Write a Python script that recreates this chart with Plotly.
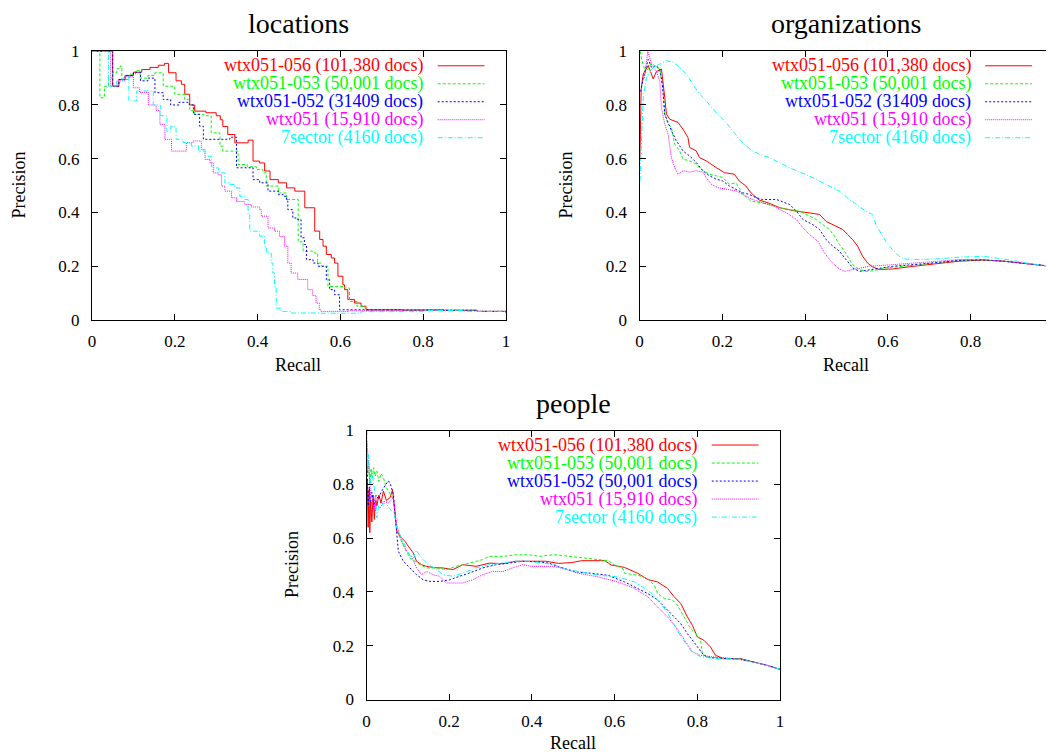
import plotly.graph_objects as go

# ---------------- data ----------------
COLORS = ["#ff0000", "#00ff00", "#0000ff", "#ff00ff", "#00ffff"]
DASHES = ["solid", "3px,2px", "2px,2px", "1px,1px", "5px,2px,1px,2px"]

LOC_LABELS = ["wtx051-056 (101,380 docs)", "wtx051-053 (50,001 docs)", "wtx051-052 (31409 docs)",
              "wtx051 (15,910 docs)", "7sector (4160 docs)"]
ORG_LABELS = ["wtx051-056 (101,380 docs)", "wtx051-053 (50,001 docs)", "wtx051-052 (31409 docs)",
              "wtx051 (15,910 docs)", "7sector (4160 docs)"]
PEO_LABELS = ["wtx051-056 (101,380 docs)", "wtx051-053 (50,001 docs)", "wtx051-052 (50,001 docs)",
              "wtx051 (15,910 docs)", "7sector (4160 docs)"]

TICK_VALS = [0, 0.2, 0.4, 0.6, 0.8, 1]
TICK_TEXT = ["0", "0.2", "0.4", "0.6", "0.8", "1"]
ORG_X_TICK_VALS = [0, 0.2, 0.4, 0.6, 0.8]
ORG_X_TICK_TEXT = ["0", "0.2", "0.4", "0.6", "0.8"]

# locations (step curves)
loc_red_x = [0, 0.05, 0.065, 0.08, 0.10, 0.12, 0.14, 0.16, 0.175, 0.185, 0.203, 0.216, 0.224, 0.236, 0.248,
             0.275, 0.30, 0.31, 0.316, 0.328, 0.345, 0.377, 0.389, 0.405, 0.417, 0.43, 0.45, 0.47, 0.49, 0.514,
             0.538, 0.55, 0.558, 0.566, 0.578, 0.586, 0.594, 0.606, 0.61, 0.618, 0.634, 0.65, 0.662, 0.75,
             0.85, 0.93, 1.0]
loc_red_y = [1.0, 0.87, 0.895, 0.91, 0.922, 0.932, 0.94, 0.948, 0.955, 0.92, 0.89, 0.877, 0.84, 0.80, 0.777,
             0.771, 0.76, 0.745, 0.72, 0.69, 0.659, 0.669, 0.591, 0.584, 0.554, 0.522, 0.51, 0.491, 0.479, 0.417,
             0.33, 0.299, 0.274, 0.243, 0.23, 0.211, 0.162, 0.13, 0.112, 0.075, 0.062, 0.05, 0.037, 0.036,
             0.035, 0.031, 0.027]

loc_green_x = [0, 0.019, 0.03, 0.04, 0.05, 0.06, 0.068, 0.072, 0.09, 0.105, 0.116, 0.135, 0.152, 0.172, 0.20,
               0.224, 0.236, 0.248, 0.27, 0.288, 0.309, 0.316, 0.353, 0.375, 0.397, 0.413, 0.421, 0.45, 0.47,
               0.498, 0.51, 0.538, 0.545, 0.554, 0.57, 0.61, 0.622, 0.64, 0.66, 0.75, 0.85, 0.93, 1.0]
loc_green_y = [1.0, 0.827, 0.87, 0.90, 0.92, 0.935, 0.945, 0.895, 0.915, 0.928, 0.90, 0.91, 0.92, 0.87, 0.84,
               0.82, 0.78, 0.765, 0.76, 0.696, 0.647, 0.628, 0.578, 0.57, 0.56, 0.547, 0.498, 0.472, 0.448,
               0.29, 0.255, 0.248, 0.211, 0.199, 0.124, 0.118, 0.068, 0.05, 0.035, 0.036, 0.035, 0.031, 0.027]

loc_blue_x = [0, 0.05, 0.065, 0.08, 0.10, 0.117, 0.135, 0.152, 0.172, 0.19, 0.21, 0.235, 0.245, 0.26, 0.269,
              0.333, 0.349, 0.389, 0.405, 0.425, 0.45, 0.462, 0.47, 0.473, 0.485, 0.497, 0.505, 0.513, 0.518,
              0.534, 0.546, 0.566, 0.574, 0.586, 0.598, 0.75, 0.85, 0.93, 1.0]
loc_blue_y = [1.0, 0.87, 0.895, 0.91, 0.922, 0.89, 0.90, 0.846, 0.82, 0.80, 0.81, 0.80, 0.765, 0.721, 0.672,
              0.68, 0.566, 0.522, 0.51, 0.479, 0.466, 0.46, 0.442, 0.41, 0.379, 0.373, 0.305, 0.28, 0.224,
              0.211, 0.199, 0.149, 0.112, 0.093, 0.037, 0.036, 0.035, 0.031, 0.027]

loc_mag_x = [0, 0.045, 0.06, 0.08, 0.10, 0.115, 0.136, 0.155, 0.164, 0.176, 0.192, 0.228, 0.244, 0.264, 0.273,
             0.285, 0.293, 0.305, 0.313, 0.321, 0.337, 0.349, 0.369, 0.385, 0.405, 0.409, 0.425, 0.441, 0.453,
             0.465, 0.473, 0.481, 0.497, 0.521, 0.533, 0.541, 0.549, 0.553, 0.62, 0.75, 0.85, 0.93, 1.0]
loc_mag_y = [1.0, 0.87, 0.89, 0.905, 0.864, 0.847, 0.80, 0.78, 0.728, 0.672, 0.628, 0.659, 0.666, 0.634, 0.597,
             0.585, 0.547, 0.54, 0.498, 0.479, 0.454, 0.44, 0.429, 0.42, 0.41, 0.386, 0.342, 0.33, 0.31,
             0.274, 0.211, 0.174, 0.15, 0.112, 0.09, 0.062, 0.037, 0.031, 0.033, 0.036, 0.035, 0.031, 0.027]

loc_cyan_x = [0, 0.04, 0.06, 0.075, 0.089, 0.108, 0.148, 0.165, 0.181, 0.19, 0.203, 0.22, 0.24, 0.257, 0.273,
              0.289, 0.305, 0.321, 0.333, 0.345, 0.357, 0.369, 0.377, 0.381, 0.405, 0.417, 0.421, 0.433, 0.437,
              0.441, 0.445, 0.457, 0.48, 0.55, 0.65, 0.8, 0.9, 1.0]
loc_cyan_y = [1.0, 0.87, 0.89, 0.905, 0.815, 0.852, 0.80, 0.76, 0.70, 0.72, 0.672, 0.66, 0.647, 0.628, 0.609,
              0.566, 0.547, 0.51, 0.504, 0.491, 0.46, 0.448, 0.39, 0.33, 0.311, 0.274, 0.249, 0.211, 0.174,
              0.124, 0.043, 0.031, 0.025, 0.024, 0.03, 0.034, 0.031, 0.027]

# organizations
org_red_x = [0.001, 0.004, 0.009, 0.021, 0.03, 0.033, 0.041, 0.053, 0.061, 0.065, 0.073, 0.085, 0.093, 0.105,
             0.117, 0.121, 0.137, 0.145, 0.161, 0.185, 0.205, 0.229, 0.241, 0.257, 0.269, 0.289, 0.313, 0.339,
             0.379, 0.411, 0.435, 0.451, 0.475, 0.491, 0.503, 0.515, 0.527, 0.539, 0.551, 0.563, 0.579, 0.611,
             0.651, 0.691, 0.731, 0.772, 0.827, 0.88, 0.94, 1.0]
org_red_y = [0.60, 0.86, 0.915, 0.947, 0.91, 0.897, 0.925, 0.934, 0.828, 0.766, 0.747, 0.741, 0.735, 0.71,
             0.679, 0.642, 0.629, 0.604, 0.592, 0.567, 0.548, 0.542, 0.517, 0.498, 0.473, 0.446, 0.434, 0.417,
             0.404, 0.398, 0.392, 0.366, 0.348, 0.336, 0.317, 0.298, 0.274, 0.236, 0.211, 0.197, 0.187, 0.189,
             0.197, 0.205, 0.211, 0.218, 0.222, 0.218, 0.208, 0.198]

org_green_x = [0.002, 0.005, 0.015, 0.029, 0.037, 0.049, 0.057, 0.061, 0.069, 0.077, 0.085, 0.097, 0.105, 0.121,
               0.137, 0.153, 0.169, 0.185, 0.201, 0.217, 0.233, 0.241, 0.249, 0.269, 0.289, 0.313, 0.337, 0.363,
               0.387, 0.411, 0.427, 0.443, 0.459, 0.471, 0.483, 0.495, 0.503, 0.515, 0.531, 0.547, 0.563, 0.595,
               0.651, 0.707, 0.772, 0.827, 0.88, 0.94, 1.0]
org_green_y = [1.0, 0.97, 0.92, 0.956, 0.945, 0.933, 0.853, 0.766, 0.729, 0.716, 0.654, 0.629, 0.598, 0.592,
               0.58, 0.555, 0.542, 0.536, 0.53, 0.505, 0.51, 0.49, 0.467, 0.442, 0.436, 0.43, 0.417, 0.41,
               0.404, 0.386, 0.373, 0.354, 0.336, 0.311, 0.28, 0.255, 0.236, 0.205, 0.187, 0.18, 0.182, 0.193,
               0.201, 0.211, 0.221, 0.223, 0.218, 0.208, 0.198]

org_blue_x = [0.003, 0.009, 0.021, 0.029, 0.041, 0.049, 0.055, 0.061, 0.069, 0.077, 0.089, 0.105, 0.121, 0.137,
              0.153, 0.169, 0.185, 0.201, 0.217, 0.233, 0.249, 0.265, 0.281, 0.297, 0.331, 0.363, 0.379, 0.395,
              0.419, 0.435, 0.451, 0.467, 0.483, 0.499, 0.515, 0.531, 0.563, 0.611, 0.691, 0.772, 0.827, 0.88,
              0.94, 1.0]
org_blue_y = [0.85, 0.90, 0.97, 0.94, 0.947, 0.93, 0.88, 0.766, 0.735, 0.704, 0.667, 0.629, 0.61, 0.586,
              0.555, 0.536, 0.524, 0.517, 0.498, 0.486, 0.473, 0.467, 0.455, 0.448, 0.448, 0.429, 0.404, 0.373,
              0.354, 0.336, 0.298, 0.274, 0.255, 0.224, 0.193, 0.18, 0.187, 0.199, 0.209, 0.221, 0.223, 0.218,
              0.208, 0.198]

org_mag_x = [0.012, 0.02, 0.026, 0.029, 0.041, 0.049, 0.053, 0.061, 0.069, 0.077, 0.085, 0.093, 0.105, 0.121,
             0.137, 0.153, 0.161, 0.173, 0.189, 0.209, 0.233, 0.249, 0.273, 0.297, 0.323, 0.355, 0.379, 0.395,
             0.411, 0.431, 0.447, 0.463, 0.479, 0.495, 0.515, 0.555, 0.611, 0.691, 0.772, 0.827, 0.88, 0.94, 1.0]
org_mag_y = [0.90, 1.0, 0.97, 0.95, 0.925, 0.89, 0.79, 0.729, 0.692, 0.604, 0.567, 0.542, 0.555, 0.55,
             0.555, 0.55, 0.53, 0.505, 0.492, 0.486, 0.48, 0.467, 0.448, 0.436, 0.423, 0.398, 0.373, 0.342,
             0.317, 0.292, 0.248, 0.217, 0.193, 0.18, 0.187, 0.199, 0.205, 0.214, 0.224, 0.224, 0.218, 0.208,
             0.198]

org_cyan_x = [0.001, 0.009, 0.017, 0.033, 0.049, 0.065, 0.081, 0.097, 0.113, 0.129, 0.145, 0.161, 0.177, 0.193,
              0.209, 0.225, 0.241, 0.257, 0.273, 0.289, 0.313, 0.337, 0.361, 0.387, 0.411, 0.435, 0.459, 0.483,
              0.507, 0.531, 0.547, 0.563, 0.571, 0.583, 0.595, 0.611, 0.627, 0.643, 0.675, 0.715, 0.772, 0.83,
              0.88, 0.94, 1.0]
org_cyan_y = [0.517, 0.828, 0.903, 0.94, 0.952, 0.965, 0.96, 0.94, 0.915, 0.878, 0.84, 0.816, 0.785, 0.76,
              0.735, 0.704, 0.673, 0.648, 0.629, 0.617, 0.604, 0.586, 0.567, 0.55, 0.535, 0.516, 0.497, 0.479,
              0.448, 0.423, 0.404, 0.392, 0.354, 0.323, 0.292, 0.261, 0.236, 0.226, 0.224, 0.226, 0.233, 0.236,
              0.226, 0.21, 0.198]

# people
peo_red_x = [0, 0.002, 0.004, 0.006, 0.008, 0.010, 0.013, 0.016, 0.019, 0.022, 0.025, 0.03, 0.035, 0.041, 0.048,
             0.057, 0.063, 0.068, 0.073, 0.081, 0.093, 0.101, 0.113, 0.121, 0.133, 0.145, 0.165, 0.185, 0.209,
             0.233, 0.265, 0.297, 0.33, 0.361, 0.393, 0.433, 0.464, 0.496, 0.52, 0.576, 0.592, 0.624, 0.656,
             0.68, 0.704, 0.728, 0.744, 0.76, 0.776, 0.788, 0.8, 0.816, 0.832, 0.844, 0.864, 0.904, 0.937,
             0.969, 1.0]
peo_red_y = [0.66, 0.82, 0.64, 0.78, 0.62, 0.74, 0.66, 0.76, 0.67, 0.75, 0.72, 0.76, 0.73, 0.775, 0.74,
             0.75, 0.78, 0.70, 0.626, 0.607, 0.588, 0.57, 0.545, 0.514, 0.501, 0.495, 0.49, 0.489, 0.483,
             0.501, 0.495, 0.507, 0.505, 0.514, 0.514, 0.514, 0.506, 0.509, 0.516, 0.516, 0.5, 0.491, 0.469,
             0.446, 0.437, 0.413, 0.382, 0.357, 0.307, 0.276, 0.233, 0.22, 0.195, 0.164, 0.152, 0.152, 0.139,
             0.127, 0.112]

peo_green_x = [0.001, 0.003, 0.005, 0.008, 0.011, 0.014, 0.017, 0.021, 0.025, 0.03, 0.035, 0.041, 0.047, 0.053,
               0.06, 0.065, 0.073, 0.081, 0.093, 0.105, 0.117, 0.129, 0.145, 0.17, 0.193, 0.217, 0.249, 0.281,
               0.297, 0.33, 0.361, 0.393, 0.42, 0.449, 0.464, 0.496, 0.528, 0.56, 0.584, 0.6, 0.62, 0.624,
               0.656, 0.68, 0.696, 0.704, 0.72, 0.74, 0.752, 0.768, 0.784, 0.8, 0.808, 0.812, 0.824, 0.864,
               0.904, 0.937, 0.969, 1.0]
peo_green_y = [0.95, 0.83, 0.89, 0.80, 0.86, 0.82, 0.862, 0.83, 0.85, 0.81, 0.84, 0.825, 0.79, 0.775,
               0.76, 0.744, 0.638, 0.6, 0.563, 0.526, 0.514, 0.501, 0.489, 0.489, 0.483, 0.495, 0.507, 0.52,
               0.532, 0.532, 0.538, 0.538, 0.532, 0.538, 0.537, 0.531, 0.525, 0.521, 0.516, 0.5, 0.487, 0.469,
               0.462, 0.45, 0.425, 0.394, 0.376, 0.37, 0.351, 0.307, 0.264, 0.239, 0.22, 0.17, 0.158, 0.152,
               0.15, 0.139, 0.127, 0.112]

peo_blue_x = [0.001, 0.004, 0.007, 0.009, 0.013, 0.018, 0.023, 0.029, 0.035, 0.041, 0.047, 0.053, 0.058, 0.065,
              0.07, 0.077, 0.089, 0.105, 0.121, 0.137, 0.153, 0.177, 0.201, 0.225, 0.249, 0.281, 0.313, 0.345,
              0.377, 0.41, 0.441, 0.464, 0.504, 0.544, 0.584, 0.624, 0.656, 0.68, 0.704, 0.728, 0.744, 0.76,
              0.776, 0.788, 0.8, 0.816, 0.832, 0.864, 0.904, 0.937, 0.969, 1.0]
peo_blue_y = [0.88, 0.72, 0.79, 0.737, 0.77, 0.72, 0.76, 0.744, 0.77, 0.787, 0.80, 0.813, 0.80, 0.762,
              0.66, 0.551, 0.514, 0.489, 0.464, 0.445, 0.439, 0.439, 0.445, 0.458, 0.47, 0.489, 0.501, 0.507,
              0.514, 0.512, 0.507, 0.494, 0.475, 0.469, 0.462, 0.437, 0.413, 0.394, 0.37, 0.332, 0.307, 0.282,
              0.245, 0.22, 0.195, 0.164, 0.155, 0.152, 0.15, 0.139, 0.127, 0.112]

peo_mag_x = [0.001, 0.005, 0.009, 0.013, 0.017, 0.021, 0.025, 0.033, 0.041, 0.053, 0.065, 0.073, 0.085, 0.097,
             0.109, 0.121, 0.133, 0.145, 0.161, 0.177, 0.193, 0.233, 0.257, 0.281, 0.305, 0.33, 0.353, 0.377,
             0.4, 0.425, 0.45, 0.473, 0.512, 0.56, 0.608, 0.648, 0.68, 0.704, 0.728, 0.748, 0.764, 0.776,
             0.788, 0.808, 0.84, 0.888, 0.937, 0.969, 1.0]
peo_mag_y = [0.95, 0.887, 0.775, 0.72, 0.76, 0.70, 0.725, 0.71, 0.737, 0.731, 0.75, 0.651, 0.588, 0.551,
             0.532, 0.489, 0.464, 0.476, 0.464, 0.458, 0.433, 0.433, 0.445, 0.464, 0.476, 0.476, 0.489, 0.501,
             0.495, 0.495, 0.495, 0.489, 0.469, 0.456, 0.437, 0.413, 0.382, 0.344, 0.307, 0.27, 0.233, 0.201,
             0.177, 0.164, 0.158, 0.152, 0.139, 0.127, 0.112]

peo_cyan_x = [0.001, 0.003, 0.005, 0.009, 0.013, 0.017, 0.021, 0.025, 0.029, 0.033, 0.041, 0.049, 0.055, 0.061,
              0.067, 0.073, 0.081, 0.097, 0.109, 0.115, 0.12, 0.127, 0.137, 0.149, 0.165, 0.185, 0.209, 0.233,
              0.265, 0.297, 0.33, 0.361, 0.393, 0.425, 0.457, 0.464, 0.512, 0.56, 0.608, 0.648, 0.68, 0.704,
              0.724, 0.74, 0.756, 0.772, 0.784, 0.808, 0.848, 0.9, 0.937, 0.969, 1.0]
peo_cyan_y = [1.0, 0.86, 0.911, 0.80, 0.85, 0.813, 0.76, 0.675, 0.72, 0.712, 0.73, 0.725, 0.71, 0.70,
              0.695, 0.638, 0.613, 0.563, 0.52, 0.53, 0.555, 0.54, 0.52, 0.501, 0.489, 0.464, 0.458, 0.47,
              0.489, 0.501, 0.507, 0.514, 0.514, 0.507, 0.501, 0.49, 0.475, 0.462, 0.456, 0.437, 0.407, 0.37,
              0.332, 0.289, 0.245, 0.208, 0.183, 0.158, 0.152, 0.15, 0.139, 0.127, 0.112]

LOC = [(loc_red_x, loc_red_y), (loc_green_x, loc_green_y), (loc_blue_x, loc_blue_y),
       (loc_mag_x, loc_mag_y), (loc_cyan_x, loc_cyan_y)]
ORG = [(org_red_x, org_red_y), (org_green_x, org_green_y), (org_blue_x, org_blue_y),
       (org_mag_x, org_mag_y), (org_cyan_x, org_cyan_y)]
PEO = [(peo_red_x, peo_red_y), (peo_green_x, peo_green_y), (peo_blue_x, peo_blue_y),
       (peo_mag_x, peo_mag_y), (peo_cyan_x, peo_cyan_y)]

# ---------------- figure ----------------
OFF = 8                      # page body margin of the html page
W, H = 1054 - OFF, 753 - OFF
FONT = "Liberation Serif"

def px_x(p):
    return (p - OFF) / W

def px_y(p):
    return 1 - (p - OFF) / H

fig = go.Figure()

panels = [
    ("x", "y", LOC, LOC_LABELS, "hv"),
    ("x2", "y2", ORG, ORG_LABELS, "linear"),
    ("x3", "y3", PEO, PEO_LABELS, "linear"),
]

for xa, ya, data, labels, shape in panels:
    for i, (xs, ys) in enumerate(data):
        fig.add_trace(go.Scatter(x=xs, y=ys, mode="lines", xaxis=xa, yaxis=ya,
                                 line=dict(color=COLORS[i], width=1, dash=DASHES[i], shape=shape),
                                 name=labels[i], showlegend=False, hoverinfo="skip"))

axis_common = dict(showline=True, linecolor="black", linewidth=1, mirror="ticks", ticks="inside",
                   ticklen=6, tickcolor="black", showgrid=False, zeroline=False, automargin=False,
                   tickfont=dict(family=FONT, size=17, color="black"), fixedrange=True)

doms = {
    "loc": dict(x=[px_x(92), px_x(506)], y=[px_y(319.7), px_y(51.3)]),
    "org": dict(x=[px_x(639.5), px_x(1053.5)], y=[px_y(319.7), px_y(51.3)]),
    "peo": dict(x=[px_x(366.5), px_x(780)], y=[px_y(699.5), px_y(430.5)]),
}

fig.update_layout(
    template="none",
    width=W, height=H, margin=dict(l=0, r=0, t=0, b=0, pad=0), autosize=False,
    paper_bgcolor="white", plot_bgcolor="white", showlegend=False,
    font=dict(family=FONT, color="black"),
    xaxis=dict(domain=doms["loc"]["x"], range=[0, 1], tickvals=TICK_VALS, ticktext=TICK_TEXT,
               anchor="y", ticklabelstandoff=6, **axis_common),
    yaxis=dict(domain=doms["loc"]["y"], range=[0, 1], tickvals=TICK_VALS, ticktext=TICK_TEXT,
               anchor="x", ticklabelstandoff=8, **axis_common),
    xaxis2=dict(domain=doms["org"]["x"], range=[0, 1], tickvals=ORG_X_TICK_VALS, ticktext=ORG_X_TICK_TEXT,
                anchor="y2", ticklabelstandoff=6, **axis_common),
    yaxis2=dict(domain=doms["org"]["y"], range=[0, 1], tickvals=TICK_VALS, ticktext=TICK_TEXT,
                anchor="x2", ticklabelstandoff=8, **axis_common),
    xaxis3=dict(domain=doms["peo"]["x"], range=[0, 1], tickvals=TICK_VALS, ticktext=TICK_TEXT,
                anchor="y3", ticklabelstandoff=6, **axis_common),
    yaxis3=dict(domain=doms["peo"]["y"], range=[0, 1], tickvals=TICK_VALS, ticktext=TICK_TEXT,
                anchor="x3", ticklabelstandoff=8, **axis_common),
)

annotations = []
shapes = []

# titles and axis titles
titles = [("locations", 298, 24), ("organizations", 846, 24), ("people", 573, 403)]
for t, cx, cy in titles:
    annotations.append(dict(text=t, x=px_x(cx), y=px_y(cy), xref="paper", yref="paper",
                            xanchor="center", yanchor="middle", showarrow=False,
                            font=dict(family=FONT, size=28, color="black")))
recalls = [(298, 365), (846, 365), (573, 743)]
for cx, cy in recalls:
    annotations.append(dict(text="Recall", x=px_x(cx), y=px_y(cy), xref="paper", yref="paper",
                            xanchor="center", yanchor="middle", showarrow=False,
                            font=dict(family=FONT, size=18, color="black")))
precs = [(18, 185.5), (565, 185.5), (292, 565)]
for cx, cy in precs:
    annotations.append(dict(text="Precision", x=px_x(cx), y=px_y(cy), xref="paper", yref="paper",
                            xanchor="center", yanchor="middle", showarrow=False, textangle=-90,
                            font=dict(family=FONT, size=18, color="black")))

# in-plot keys (gnuplot style: text then line sample)
KEY_TEXT_X = 0.805
KEY_LINE_X0 = 0.835
KEY_LINE_X1 = 0.948
KEY_Y0 = 0.946
KEY_DY = 0.067
for xa, ya, data, labels, shape in panels:
    for i, lab in enumerate(labels):
        yk = KEY_Y0 - i * KEY_DY
        annotations.append(dict(text=lab, x=KEY_TEXT_X, y=yk, xref=xa, yref=ya,
                                xanchor="right", yanchor="middle", showarrow=False,
                                font=dict(family=FONT, size=18, color=COLORS[i])))
        shapes.append(dict(type="line", xref=xa, yref=ya, x0=KEY_LINE_X0, x1=KEY_LINE_X1, y0=yk, y1=yk,
                           line=dict(color=COLORS[i], width=1, dash=DASHES[i])))

fig.update_layout(annotations=annotations, shapes=shapes)

fig.write_html("out.html")
